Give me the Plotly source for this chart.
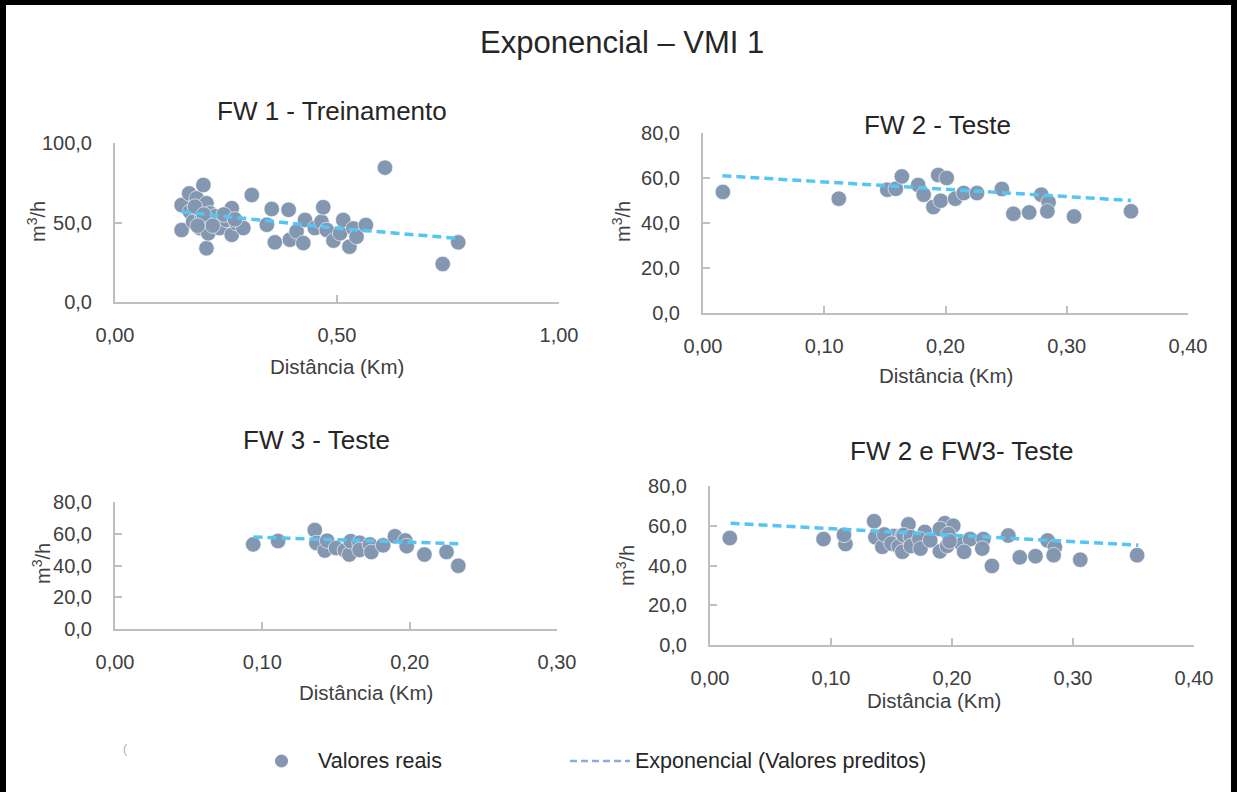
import plotly.graph_objects as go

# ---------------- data ----------------
fw1_x = [0.150, 0.150, 0.167, 0.169, 0.176, 0.184, 0.191, 0.191, 0.199, 0.206,
         0.206, 0.210, 0.214, 0.225, 0.236, 0.251, 0.263, 0.263, 0.274, 0.289,
         0.308, 0.342, 0.353, 0.360, 0.391, 0.394, 0.409, 0.424, 0.428, 0.450,
         0.465, 0.469, 0.477, 0.492, 0.507, 0.514, 0.528, 0.537, 0.544, 0.565,
         0.608, 0.738, 0.773, 0.180, 0.196, 0.200, 0.220, 0.245, 0.186, 0.270]
fw1_y = [61.0, 45.3, 68.3, 56.8, 50.5, 65.2, 57.9, 46.5, 73.6, 62.1,
         33.8, 43.2, 55.8, 53.9, 46.5, 51.6, 59.0, 42.3, 49.5, 46.5,
         67.3, 48.6, 58.5, 37.5, 58.0, 39.2, 44.4, 37.1, 51.6, 46.5,
         50.5, 59.6, 45.3, 38.6, 43.2, 51.6, 34.8, 46.3, 41.0, 48.4,
         84.5, 23.9, 37.5, 60.0, 52.0, 55.0, 48.0, 55.0, 48.0, 52.0]

fw2_x = [0.0164, 0.112, 0.152, 0.159, 0.164, 0.1775, 0.182, 0.190, 0.196, 0.194,
         0.201, 0.208, 0.215, 0.226, 0.2465, 0.256, 0.269, 0.279, 0.285, 0.284,
         0.306, 0.353]
fw2_y = [53.8, 50.8, 54.8, 55.2, 60.7, 56.9, 52.6, 47.1, 49.9, 61.3,
         60.0, 50.8, 53.3, 53.3, 55.1, 44.1, 44.7, 52.6, 49.2, 45.2,
         42.9, 45.2]

fw3_x = [0.0938, 0.1107, 0.1356, 0.1367, 0.1424, 0.1440, 0.150, 0.156, 0.159, 0.160,
         0.166, 0.166, 0.173, 0.174, 0.182, 0.190, 0.197, 0.198, 0.210, 0.225,
         0.233]
fw3_y = [53.3, 55.4, 62.3, 54.2, 49.4, 55.6, 51.0, 49.6, 46.9, 55.3,
         54.3, 49.8, 53.3, 48.5, 52.7, 58.4, 55.8, 52.2, 46.9, 48.5,
         39.8]

# combined test set = FW2 + FW3
fw23_x = fw2_x + fw3_x
fw23_y = fw2_y + fw3_y

# predicted (exponential trend) values
pred1_x = [0.150, 0.492, 0.773]
pred1_y = [56.8, 46.6, 40.0]
pred2_x = [0.016, 0.200, 0.353]
pred2_y = [61.0, 55.0, 50.0]
pred3_x = [0.094, 0.160, 0.233]
pred3_y = [57.9, 56.0, 53.7]
pred23_x = [0.017, 0.200, 0.354]
pred23_y = [61.2, 55.0, 50.2]

titles = ["FW 1 - Treinamento", "FW 2 - Teste", "FW 3 - Teste", "FW 2 e FW3- Teste"]
main_title = "Exponencial – VMI 1"
x_title = "Distância (Km)"
y_title = "m<sup>3</sup>/h"
legend_labels = ["Valores reais", "Exponencial (Valores preditos)"]

# ---------------- styling ----------------
W, H = 1237, 792
FONT = "Liberation Sans, Arial, sans-serif"
PT_COLOR = "#8497B0"
LINE_COLOR = "#55C6F3"
AX_COLOR = "#BFBFBF"
TXT = "#404040"


def px(x):
    return x / W


def py(y):
    return 1 - y / H


fig = go.Figure()

panels = [
    # x data, y data, pred x, pred y, x-domain px, y-domain px (bottom, top), xmax, xdtick, ymax, ydtick
    (fw1_x, fw1_y, pred1_x, pred1_y, (115, 559), (302, 143), 1.0, 0.5, 100, 50),
    (fw2_x, fw2_y, pred2_x, pred2_y, (703, 1188), (313, 133), 0.4, 0.1, 80, 20),
    (fw3_x, fw3_y, pred3_x, pred3_y, (115, 557), (629, 502), 0.3, 0.1, 80, 20),
    (fw23_x, fw23_y, pred23_x, pred23_y, (710, 1194), (645, 486), 0.4, 0.1, 80, 20),
]

for i, (xs, ys, pxs, pys, xd, yd, xmax, xdt, ymax, ydt) in enumerate(panels):
    n = "" if i == 0 else str(i + 1)
    xa, ya = "x" + n, "y" + n
    fig.add_trace(go.Scatter(
        x=xs, y=ys, mode="markers", xaxis=xa, yaxis=ya, showlegend=False,
        marker=dict(size=15.5, color=PT_COLOR, line=dict(width=1, color="rgba(255,255,255,0.6)")),
        name=legend_labels[0]))
    fig.add_trace(go.Scatter(
        x=pxs, y=pys, mode="lines", xaxis=xa, yaxis=ya, showlegend=False,
        line=dict(color=LINE_COLOR, width=3.5, dash="9px,5px"),
        name=legend_labels[1]))
    common = dict(showline=True, linecolor=AX_COLOR, linewidth=2, ticks="inside",
                  ticklen=7, tickwidth=2, tickcolor=AX_COLOR, showgrid=False,
                  zeroline=False, automargin=False,
                  tickfont=dict(size=20, color=TXT, family=FONT))
    fig.update_layout(**{
        "xaxis" + n: dict(domain=[px(xd[0]), px(xd[1])], range=[0, xmax], dtick=xdt,
                          tick0=0, tickformat=".2f", anchor=ya, ticklabelstandoff=14, **common),
        "yaxis" + n: dict(domain=[py(yd[0]), py(yd[1])], range=[0, ymax], dtick=ydt,
                          tick0=0, tickformat=".1f", anchor=xa, ticklabelstandoff=17, **common),
    })

ann = []
ann.append(dict(text=main_title, x=px(622), y=py(43), font=dict(size=31, color="#262626")))
for t, (cx, cy) in zip(titles, [(332, 111), (937, 125), (316, 440), (961, 451)]):
    ann.append(dict(text=t, x=px(cx), y=py(cy), font=dict(size=26, color="#262626")))
for cx, cy in [(337, 366), (946, 376), (366, 692), (934, 700)]:
    ann.append(dict(text=x_title, x=px(cx), y=py(cy), font=dict(size=20.5, color=TXT)))
for cx, cy in [(37, 222), (622, 222), (41, 564), (625, 566)]:
    ann.append(dict(text=y_title, x=px(cx), y=py(cy), textangle=-90, font=dict(size=20, color=TXT)))
ann.append(dict(text=legend_labels[0], x=px(316), y=py(761), xanchor="left",
                font=dict(size=21.5, color="#262626")))
ann.append(dict(text=legend_labels[1], x=px(633), y=py(761), xanchor="left",
                font=dict(size=21.5, color="#262626")))
ann.append(dict(text="(", x=px(125), y=py(749), font=dict(size=12, color="#9fb0c8")))

annotations = []
for a in ann:
    d = dict(xref="paper", yref="paper", showarrow=False, xanchor=a.get("xanchor", "center"),
             yanchor="middle")
    d.update(a)
    d["font"] = dict(family=FONT, **a["font"])
    annotations.append(d)

shapes = [
    # black frame (left, top, right)
    dict(type="rect", xref="paper", yref="paper", x0=0, x1=px(6), y0=0, y1=1,
         fillcolor="black", line=dict(width=0)),
    dict(type="rect", xref="paper", yref="paper", x0=0, x1=1, y0=py(5), y1=1,
         fillcolor="black", line=dict(width=0)),
    dict(type="rect", xref="paper", yref="paper", x0=px(1231), x1=1, y0=0, y1=1,
         fillcolor="black", line=dict(width=0)),
    # legend symbols
    dict(type="circle", xref="paper", yref="paper", x0=px(275), x1=px(288),
         y0=py(767.5), y1=py(754.5), fillcolor=PT_COLOR, line=dict(width=0)),
    dict(type="line", xref="paper", yref="paper", x0=px(570), x1=px(630),
         y0=py(761), y1=py(761), line=dict(color="#8EA9DB", width=2.5, dash="7px,4px")),
]

fig.update_layout(
    width=W, height=H, autosize=False,
    margin=dict(l=0, r=0, t=0, b=0, pad=0, autoexpand=False),
    paper_bgcolor="white", plot_bgcolor="white",
    separators=",.",
    font=dict(family=FONT, color=TXT),
    showlegend=False,
    annotations=annotations,
    shapes=shapes,
)

fig.write_html("out.html")
